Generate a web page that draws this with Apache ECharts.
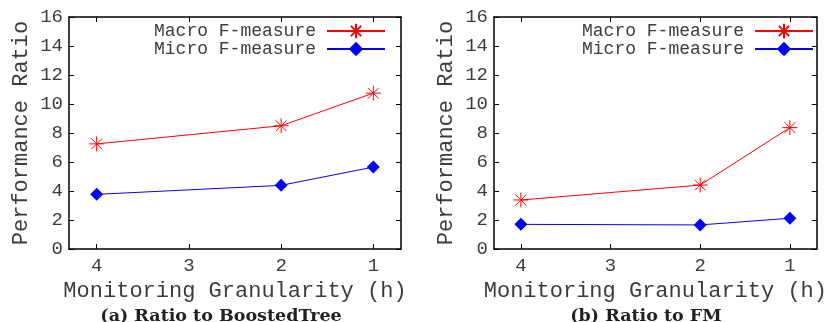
<!DOCTYPE html>
<html>
<head>
  <meta charset="UTF-8">
  <title>Performance Ratio</title>
  <script src="https://cdn.jsdelivr.net/npm/echarts@6/dist/echarts.min.js"></script>
  <style>
    html, body { margin: 0; padding: 0; background: #fff; }
    #chart { width: 830px; height: 322px; }
  </style>
</head>
<body>
  <div id="chart"></div>
  <script>
    // granularity in hours (x axis runs 4 -> 1)
    var granularity = [4, 2, 1];
    var xTicks = [1, 2, 3, 4];
    var seriesNames = ['Macro F-measure', 'Micro F-measure'];
    var captions = ['(a) Ratio to BoostedTree', '(b) Ratio to FM'];

    // (a) ratio to BoostedTree
    var macroBoosted = [7.25, 8.5, 10.75];
    var microBoosted = [3.77, 4.39, 5.65];
    // (b) ratio to FM
    var macroFM = [3.38, 4.41, 8.37];
    var microFM = [1.70, 1.66, 2.12];

    var mono = 'Liberation Mono';
    var txt = '#3c3c3c';
    var star = 'path://M8,0L8,16M0,8L16,8M2.3,2.3L13.7,13.7M2.3,13.7L13.7,2.3';

    function pairs(ys) {
      return granularity.map(function (g, i) { return [g, ys[i]]; });
    }

    function xAx(grid, pos) {
      var main = pos === 'bottom';
      return {
        type: 'value', gridIndex: grid, position: pos, inverse: true,
        min: 0.7, max: 4.3,
        splitLine: { show: false },
        axisLine: { show: true, onZero: false, lineStyle: { color: '#000', width: 1.5 } },
        axisTick: { show: true, inside: true, length: 5, customValues: xTicks,
                    lineStyle: { color: '#000' } },
        axisLabel: { show: main, customValues: xTicks, margin: 7,
                     fontFamily: mono, fontSize: 19, color: txt },
        name: main ? 'Monitoring Granularity (h)' : '',
        nameLocation: 'middle', nameGap: 31,
        nameTextStyle: { fontFamily: mono, fontSize: 22, color: txt }
      };
    }

    function yAx(grid, pos) {
      var main = pos === 'left';
      return {
        type: 'value', gridIndex: grid, position: pos,
        min: 0, max: 16, interval: 2,
        splitLine: { show: false },
        axisLine: { show: true, onZero: false, lineStyle: { color: '#000', width: 1.5 } },
        axisTick: { show: true, inside: true, length: 5, lineStyle: { color: '#000' } },
        axisLabel: { show: main, margin: 6, fontFamily: mono, fontSize: 19, color: txt },
        name: main ? 'Performance Ratio' : '',
        nameLocation: 'middle', nameGap: 37,
        nameTextStyle: { fontFamily: mono, fontSize: 22, color: txt }
      };
    }

    function macro(grid, ys) {
      return {
        name: seriesNames[0], type: 'line', xAxisIndex: grid, yAxisIndex: grid,
        data: pairs(ys), symbol: star, symbolSize: 15,
        lineStyle: { color: '#ff0000', width: 1 },
        itemStyle: { color: '#ff0000', borderColor: '#ff0000', borderWidth: 1 }
      };
    }

    function micro(grid, ys) {
      return {
        name: seriesNames[1], type: 'line', xAxisIndex: grid, yAxisIndex: grid,
        data: pairs(ys), symbol: 'diamond', symbolSize: 13,
        lineStyle: { color: '#0000ff', width: 1 },
        itemStyle: { color: '#0000ff' }
      };
    }

    function legend(right) {
      return {
        orient: 'vertical', right: right, top: 22, padding: 0,
        itemGap: 0, itemWidth: 58, itemHeight: 18, align: 'right',
        data: seriesNames,
        textStyle: { fontFamily: mono, fontSize: 18, color: txt, padding: [0, 6, 0, 0] }
      };
    }

    var capStyle = { fontFamily: 'DejaVu Serif', fontSize: 17.5, fontWeight: 'bold', color: '#222' };

    var chart = echarts.init(document.getElementById('chart'));
    chart.setOption({
      animation: false,
      title: [
        { text: captions[0], left: 216, top: 302, textAlign: 'center', textStyle: capStyle },
        { text: captions[1], left: 641, top: 302, textAlign: 'center', textStyle: capStyle }
      ],
      legend: [legend(444), legend(16)],
      grid: [
        { left: 69, right: 429, top: 17, bottom: 73 },
        { left: 494, right: 5, top: 17, bottom: 73 }
      ],
      xAxis: [xAx(0, 'bottom'), xAx(1, 'bottom'), xAx(0, 'top'), xAx(1, 'top')],
      yAxis: [yAx(0, 'left'), yAx(1, 'left'), yAx(0, 'right'), yAx(1, 'right')],
      series: [
        macro(0, macroBoosted), micro(0, microBoosted),
        macro(1, macroFM), micro(1, microFM)
      ]
    });
  </script>
</body>
</html>
